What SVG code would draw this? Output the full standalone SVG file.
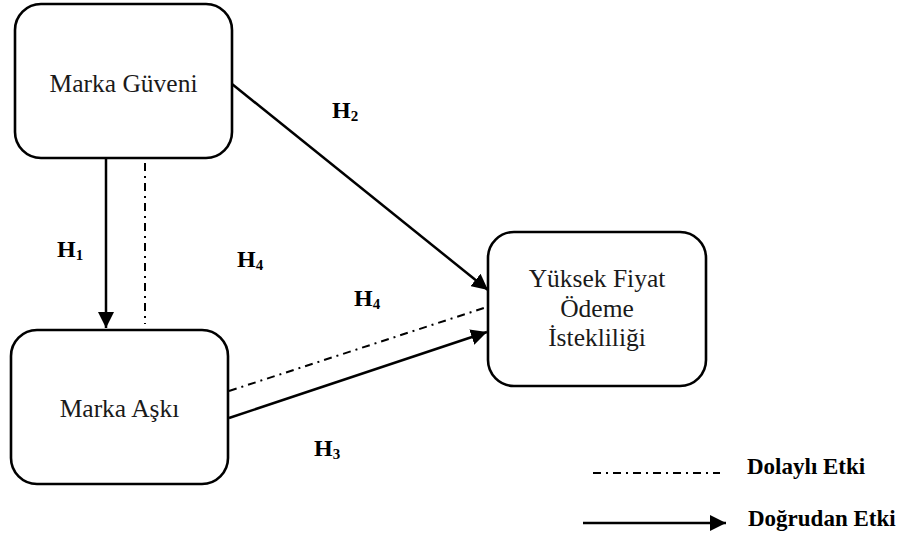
<svg xmlns="http://www.w3.org/2000/svg" width="903" height="535" viewBox="0 0 903 535">
<style>
.box{fill:#fff;stroke:#000;stroke-width:2.6}
.t{font-family:"Liberation Serif","Times New Roman",serif;font-size:25.5px;fill:#1a1a1a;text-anchor:middle}
.h{font-family:"Liberation Serif","Times New Roman",serif;font-size:24px;font-weight:bold;fill:#000}
.s{font-size:15px}
.lg{font-family:"Liberation Serif","Times New Roman",serif;font-size:23px;font-weight:bold;fill:#000}
.solid{stroke:#000;stroke-width:2.5;fill:none}
.dd{stroke:#000;stroke-width:2;fill:none;stroke-dasharray:8 5 2 5}
</style>
<defs>
<marker id="ah" viewBox="0 0 10 10" refX="10" refY="5" markerWidth="6.4" markerHeight="6.4" markerUnits="strokeWidth" orient="auto">
<path d="M0,0 L10,5 L0,10 z" fill="#000"/>
</marker>
</defs>
<g id="n1">
<rect class="box" x="15" y="4" width="217" height="154" rx="26" ry="26"/>
<text class="t" x="123.5" y="92">Marka Güveni</text>
</g>
<g id="n2">
<rect class="box" x="11" y="330" width="217" height="154" rx="26" ry="26"/>
<text class="t" x="119.5" y="417">Marka Aşkı</text>
</g>
<g id="n3">
<rect class="box" x="488" y="232" width="218" height="154" rx="26" ry="26"/>
<text class="t" x="597" y="287">Yüksek Fiyat</text>
<text class="t" x="597" y="316.5">Ödeme</text>
<text class="t" x="597" y="346">İstekliliği</text>
</g>
<g id="connectors">
<line class="solid" x1="106" y1="158" x2="106" y2="328" marker-end="url(#ah)"/>
<line class="dd" x1="145" y1="163" x2="145" y2="324"/>
<line class="solid" x1="232" y1="84" x2="488" y2="290" marker-end="url(#ah)"/>
<line class="dd" x1="229" y1="391" x2="484" y2="308"/>
<line class="solid" x1="229" y1="418" x2="487" y2="332" marker-end="url(#ah)"/>
</g>
<g id="labels">
<text class="h" x="57" y="257">H<tspan class="s" dy="3">1</tspan></text>
<text class="h" x="332" y="118">H<tspan class="s" dy="3">2</tspan></text>
<text class="h" x="237" y="267">H<tspan class="s" dy="3">4</tspan></text>
<text class="h" x="354" y="306">H<tspan class="s" dy="3">4</tspan></text>
<text class="h" x="314" y="456">H<tspan class="s" dy="3">3</tspan></text>
</g>
<g id="legend">
<line class="dd" x1="593" y1="473" x2="720" y2="473"/>
<text class="lg" x="747" y="474">Dolaylı Etki</text>
<line class="solid" x1="583" y1="523" x2="726" y2="523" marker-end="url(#ah)"/>
<text class="lg" x="748" y="526">Doğrudan Etki</text>
</g>
</svg>
